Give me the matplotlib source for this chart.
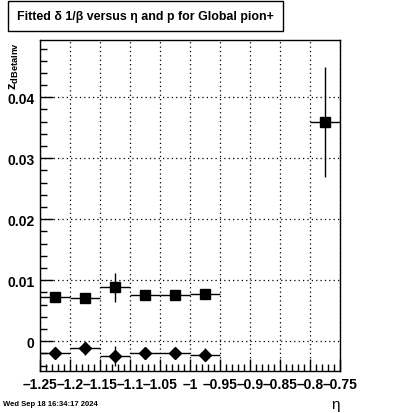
#!/usr/bin/env python3

import matplotlib
matplotlib.use('Agg')
import matplotlib.pyplot as plt
import numpy as np
from matplotlib.ticker import MultipleLocator, FixedLocator, FixedFormatter

plt.rc('font', family='Liberation Sans', weight='bold', size=10)
plt.rc('mathtext', fontset='custom', rm='Liberation Sans', bf='Liberation Sans:bold',
       it='Liberation Sans:italic')

# bin centres in eta and fitted values
eta_sq = [-1.225, -1.175, -1.125, -1.075, -1.025, -0.975, -0.775]
mean_sq = [0.0072, 0.0070, 0.0088, 0.0075, 0.0075, 0.0077, 0.0359]
err_sq = [0.0008, 0.0008, 0.0023, 0.0007, 0.0007, 0.0007, 0.0090]

eta_di = [-1.225, -1.175, -1.125, -1.075, -1.025, -0.975]
mean_di = [-0.0020, -0.0012, -0.0024, -0.0020, -0.0020, -0.0022]
err_di = [0.0010, 0.0010, 0.0016, 0.0010, 0.0009, 0.0010]

bin_half = 0.025
xticks = [-1.25, -1.2, -1.15, -1.1, -1.05, -1.0, -0.95, -0.9, -0.85, -0.8, -0.75]
xlabels = ['\u20131.25', '\u20131.2', '\u20131.15', '\u20131.1', '\u20131.05', '\u20131',
           '\u20130.95', '\u20130.9', '\u20130.85', '\u20130.8', '\u20130.75']

fig = plt.figure(figsize=(4.0, 4.14), dpi=100)
ax = fig.add_axes([0.1, 0.1014, 0.75, 0.7996])

ax.errorbar(eta_sq, mean_sq, xerr=bin_half, yerr=err_sq, fmt='s', color='black',
            markersize=7, elinewidth=1, capsize=0, zorder=3)
ax.errorbar(eta_di, mean_di, xerr=bin_half, yerr=err_di, fmt='D', color='black',
            markersize=6, elinewidth=1, capsize=0, zorder=3)

ax.set_xlim(-1.25, -0.75)
ax.set_ylim(-0.0049, 0.0494)

ax.xaxis.set_major_locator(FixedLocator(xticks))
ax.xaxis.set_major_formatter(FixedFormatter(xlabels))
ax.xaxis.set_minor_locator(MultipleLocator(0.01))
ax.yaxis.set_major_locator(MultipleLocator(0.01))
ax.yaxis.set_minor_locator(MultipleLocator(0.002))
ax.set_yticks([0, 0.01, 0.02, 0.03, 0.04])
ax.set_yticklabels(['0', '0.01', '0.02', '0.03', '0.04'])

ax.tick_params(which='both', direction='in', top=False, right=False, width=1)
ax.tick_params(which='major', length=9, pad=4)
ax.tick_params(which='minor', length=5)
ax.grid(which='major', color='black', linestyle=(0, (1, 2.5)), linewidth=0.9)
ax.set_axisbelow(True)
for s in ax.spines.values():
    s.set_linewidth(1)

# title box
fig.text(0.043, 0.959, 'Fitted \u03b4 1/\u03b2 versus \u03b7 and p for Global pion+',
         fontsize=8.9, ha='left', va='center',
         bbox=dict(boxstyle='square,pad=0.75', facecolor='white', edgecolor='black', linewidth=1))

fig.text(0.035, 1 - 42 / 414, r'z$_{\mathbf{dBetaInv}}$', rotation=90, ha='center', va='top',
         fontsize=9.5)
fig.text(0.84, 1 - 405 / 414, '\u03b7', fontsize=11, fontweight='normal', ha='center', va='center')
fig.text(0.008, 1 - 405 / 414, 'Wed Sep 18 16:34:17 2024', fontsize=5.5, ha='left', va='center')

plt.savefig('out.png', dpi=100)
